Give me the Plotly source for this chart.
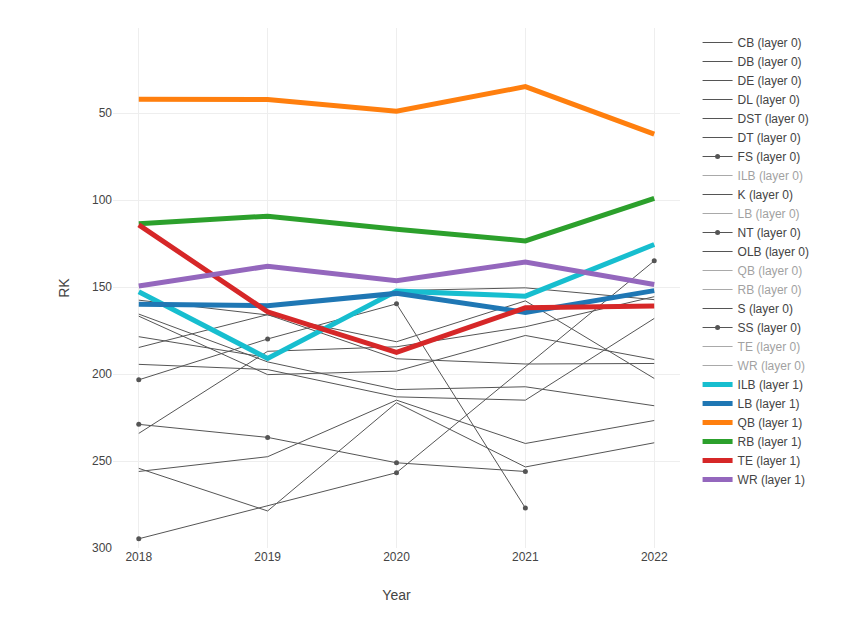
import plotly.graph_objects as go

years = [2018, 2019, 2020, 2021, 2022]

# layer 0 (gray) series
layer0_names = ["CB", "DB", "DE", "DL", "DST", "DT", "FS", "ILB", "K", "LB", "NT",
                "OLB", "QB", "RB", "S", "SS", "TE", "WR"]

CB = [157.5, 166.0, 181.4, 157.9, 202.5]
DB = [165.5, 193.0, 208.9, 207.3, 218.2]
DE = [166.7, 200.3, 198.3, 177.8, 191.6]
DL = [178.5, 190.5, 152.0, 150.4, 157.2]
DST = [184.7, 165.8, 191.2, 194.2, 193.9]
DT = [194.4, 197.4, 213.1, 215.0, 168.0]
FS = [203.3, 179.8, 159.6, 277.0, None]
K = [234.1, 186.9, 184.3, 172.8, 155.5]
NT = [228.9, 236.4, 251.0, 256.0, None]
OLB = [256.0, 247.5, 215.0, 239.9, 226.7]
S = [254.2, 278.7, 216.5, 253.4, 239.5]
SS_years = [2018, 2020, 2022]
SS = [294.7, 256.7, 134.9]

# layer 1 (highlighted) series
ILB = [152.7, 191.0, 152.3, 155.2, 125.5]
LB = [159.8, 160.7, 153.6, 164.5, 152.0]
QB = [42.0, 42.1, 48.9, 34.7, 62.0]
RB = [113.6, 109.2, 116.7, 123.4, 98.9]
TE = [114.2, 164.2, 187.5, 161.9, 160.9]
WR = [149.4, 138.0, 146.3, 135.6, 148.5]

layer0 = {
    "CB": (years, CB), "DB": (years, DB), "DE": (years, DE), "DL": (years, DL),
    "DST": (years, DST), "DT": (years, DT), "FS": (years[:4], FS[:4]),
    "ILB": (years, ILB), "K": (years, K), "LB": (years, LB),
    "NT": (years[:4], NT[:4]), "OLB": (years, OLB), "QB": (years, QB),
    "RB": (years, RB), "S": (years, S), "SS": (SS_years, SS),
    "TE": (years, TE), "WR": (years, WR),
}
marker_names = {"FS", "NT", "SS"}
hidden_names = {"ILB", "LB", "QB", "RB", "TE", "WR"}

layer1 = [("ILB", ILB, "#17becf"), ("LB", LB, "#1f77b4"), ("QB", QB, "#ff7f0e"),
          ("RB", RB, "#2ca02c"), ("TE", TE, "#d62728"), ("WR", WR, "#9467bd")]

fig = go.Figure()
for name in layer0_names:
    xs, ys = layer0[name]
    fig.add_trace(go.Scatter(
        x=xs, y=ys, name=f"{name} (layer 0)",
        mode="lines+markers" if name in marker_names else "lines",
        line=dict(color="#555555", width=1),
        marker=dict(size=5, color="#555555"),
        visible="legendonly" if name in hidden_names else True,
    ))
for name, ys, col in layer1:
    fig.add_trace(go.Scatter(
        x=years, y=ys, name=f"{name} (layer 1)", mode="lines",
        line=dict(color=col, width=5),
    ))

fig.update_layout(
    template="plotly_white",
    width=847, height=626,
    margin=dict(l=105, r=175, t=20, b=86),
    font=dict(family="Arial, Liberation Sans, sans-serif", size=12, color="#444"),
    xaxis=dict(title=dict(text="Year", standoff=27), range=[2017.8, 2022.2], dtick=1,
               tickvals=years, gridcolor="#eeeeee", zeroline=False, showline=False,
               automargin=False),
    yaxis=dict(title=dict(text="RK", standoff=19), range=[300, 1],
               tickvals=[50, 100, 150, 200, 250, 300],
               gridcolor="#eeeeee", zeroline=False, showline=False, automargin=False),
    legend=dict(font=dict(size=12), x=1.031),
)

fig.write_html("out.html")
